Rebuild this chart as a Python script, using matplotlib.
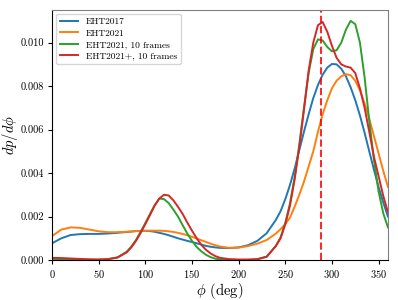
import matplotlib
matplotlib.use("Agg")
import matplotlib.pyplot as plt

plt.rcParams['font.family'] = 'serif'
plt.rcParams['font.serif'] = ['cmr10', 'DejaVu Serif']
plt.rcParams['mathtext.fontset'] = 'cm'
plt.rcParams['axes.formatter.use_mathtext'] = True

# angulos (graus)
phi = [0, 10, 20, 30, 40, 50, 60, 70, 80,
       85, 90, 95, 100, 105, 110, 115, 120, 125, 130, 135, 140, 145, 150,
       155, 160, 165, 170, 175, 180,
       190, 200, 210, 220, 230, 240,
       245, 250, 255, 260, 265, 270, 275, 280, 285, 290, 295, 300, 305,
       310, 315, 320, 325, 330, 335, 340, 345, 350, 355, 360]

eht2017 = [0.00077, 0.00100, 0.00115, 0.00119, 0.00120, 0.00120, 0.00122, 0.00125, 0.00129,
           0.00131, 0.00133, 0.00134, 0.00134, 0.00133, 0.00130, 0.00125, 0.00120, 0.00114,
           0.00107, 0.00100, 0.00094, 0.00088, 0.00083,
           0.00077, 0.00071, 0.00065, 0.00061, 0.00058, 0.00056,
           0.00055, 0.00058, 0.00068, 0.00088, 0.00123, 0.00185,
           0.00225, 0.00280, 0.00345, 0.00420, 0.00505, 0.00590, 0.00670, 0.00745, 0.00805,
           0.00852, 0.00885, 0.00902, 0.00900,
           0.00880, 0.00845, 0.00795, 0.00735, 0.00665, 0.00585, 0.00500, 0.00415, 0.00335,
           0.00265, 0.00200]

eht2021 = [0.00110, 0.00140, 0.00150, 0.00148, 0.00140, 0.00132, 0.00128, 0.00128, 0.00130,
           0.00131, 0.00133, 0.00134, 0.00135, 0.00135, 0.00135, 0.00135, 0.00134, 0.00132,
           0.00129, 0.00125, 0.00120, 0.00114, 0.00107,
           0.00099, 0.00091, 0.00083, 0.00075, 0.00068, 0.00062,
           0.00056, 0.00057, 0.00064, 0.00075, 0.00092, 0.00122,
           0.00142, 0.00165, 0.00195, 0.00245, 0.00300, 0.00360, 0.00430, 0.00500, 0.00590,
           0.00670, 0.00735, 0.00790, 0.00825,
           0.00845, 0.00855, 0.00850, 0.00825, 0.00780, 0.00720, 0.00650, 0.00570, 0.00490,
           0.00410, 0.00337]

eht2021_10f = [0.00005, 0.00004, 0.00003, 0.00002, 0.00002, 0.00002, 0.00004, 0.00012, 0.00038,
               0.00062, 0.00092, 0.00130, 0.00170, 0.00212, 0.00252, 0.00283, 0.00280, 0.00262,
               0.00232, 0.00200, 0.00160, 0.00122, 0.00088,
               0.00060, 0.00040, 0.00024, 0.00013, 0.00006, 0.00003,
               0.00001, 0.00001, 0.00001, 0.00003, 0.00015, 0.00065,
               0.00105, 0.00170, 0.00260, 0.00380, 0.00530, 0.00700, 0.00860, 0.00970, 0.01015,
               0.01010, 0.00980, 0.00960, 0.00965,
               0.01000, 0.01060, 0.01100, 0.01085, 0.01000, 0.00840, 0.00640, 0.00460, 0.00315,
               0.00215, 0.00150]

eht2021p_10f = [0.00010, 0.00009, 0.00007, 0.00005, 0.00003, 0.00002, 0.00004, 0.00011, 0.00035,
                0.00058, 0.00088, 0.00125, 0.00165, 0.00207, 0.00250, 0.00283, 0.00300, 0.00297,
                0.00275, 0.00245, 0.00212, 0.00172, 0.00135,
                0.00100, 0.00070, 0.00047, 0.00030, 0.00018, 0.00010,
                0.00004, 0.00002, 0.00002, 0.00004, 0.00015, 0.00065,
                0.00100, 0.00165, 0.00250, 0.00370, 0.00520, 0.00690, 0.00870, 0.01000, 0.01080,
                0.01095, 0.01050, 0.00985, 0.00930,
                0.00900, 0.00890, 0.00885, 0.00860, 0.00790, 0.00700, 0.00590, 0.00475, 0.00385,
                0.00295, 0.00220]

phi_ref = 288

fig = plt.figure(figsize=(3.98, 3.0), dpi=100)
ax = fig.add_axes([0.1307, 0.1333, 0.844, 0.8333])

ax.plot(phi, eht2017, label="EHT2017", lw=1.4)
ax.plot(phi, eht2021, label="EHT2021", lw=1.4)
ax.plot(phi, eht2021_10f, label="EHT2021, 10 frames", lw=1.4)
ax.plot(phi, eht2021p_10f, label="EHT2021+, 10 frames", lw=1.4)
ax.axvline(phi_ref, color='red', ls='--', lw=1.4, alpha=0.85)

ax.set_xlim(0, 360)
ax.set_ylim(0, 0.0115)
ax.set_yticks([0, 0.002, 0.004, 0.006, 0.008, 0.010])
ax.set_yticklabels(["0.000", "0.002", "0.004", "0.006", "0.008", "0.010"])
ax.tick_params(labelsize=7.5, length=3, pad=2.5)
ax.set_xlabel(r"$\phi$ (deg)", fontsize=10.5, labelpad=1)
ax.set_ylabel(r"$dp/d\phi$", fontsize=10.5)
ax.yaxis.set_label_coords(-0.095, 0.5)

for s in ['top', 'right']:
    ax.spines[s].set_color('gray')

ax.legend(loc='upper left', fontsize=6.8, labelspacing=0.3, handlelength=2.0,
          borderpad=0.4, borderaxespad=0.4)

fig.savefig("out.png", dpi=100)
